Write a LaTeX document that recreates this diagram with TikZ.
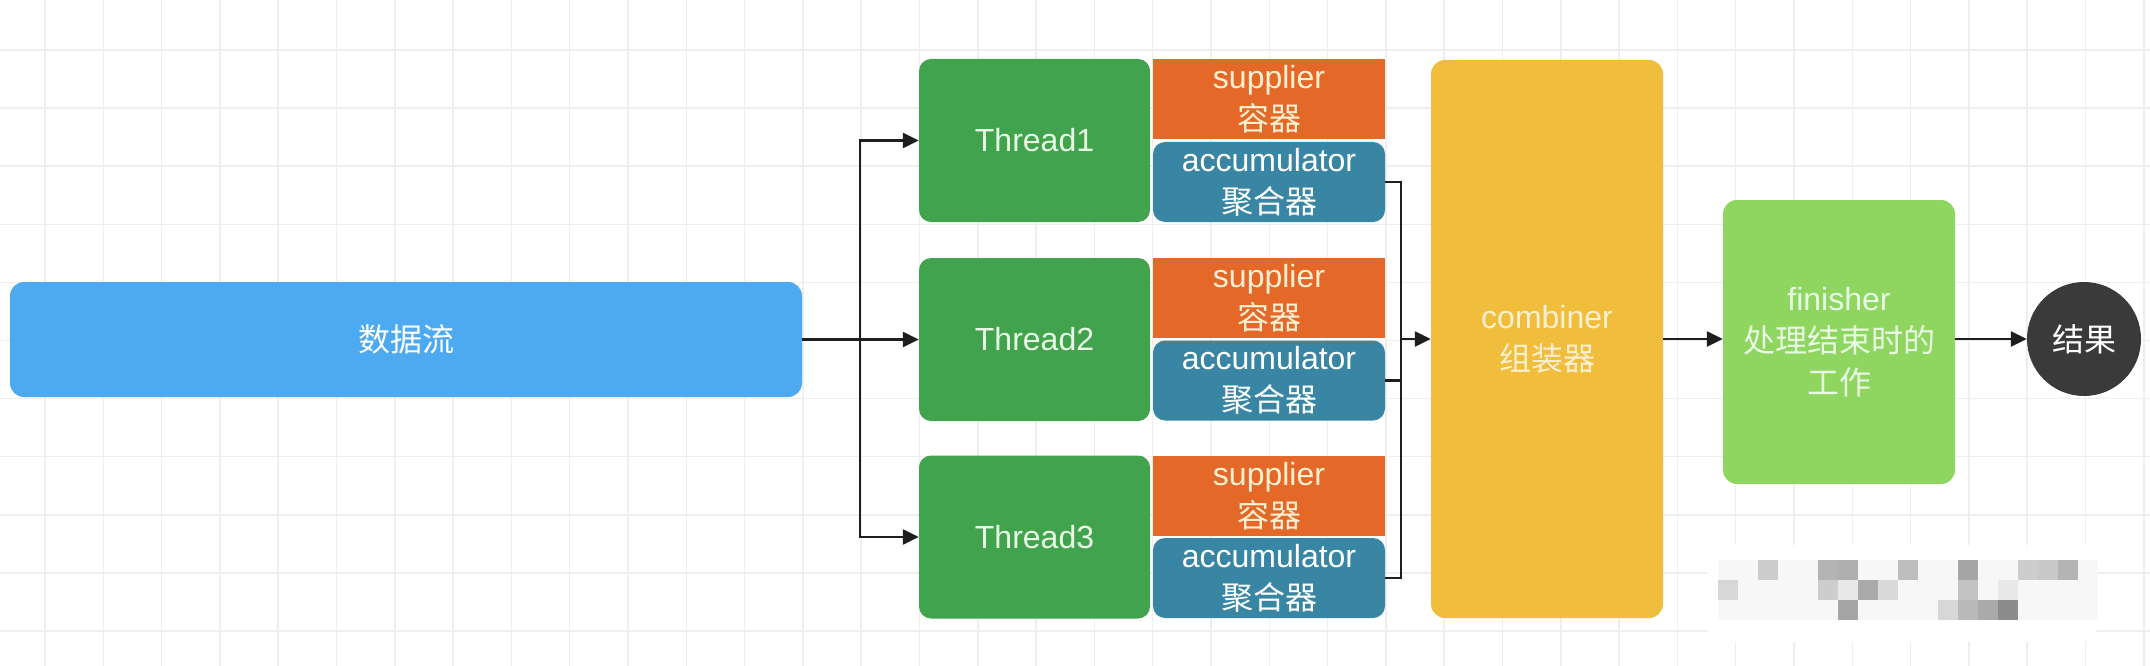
\documentclass[tikz,border=0pt]{standalone}
\usepackage{fontspec}
\setmainfont{Liberation Sans}
\newfontfamily\cjk{Noto Sans CJK SC}
\usetikzlibrary{arrows.meta}
\definecolor{flowblue}{RGB}{77,170,240}
\definecolor{thrgreen}{RGB}{66,163,78}
\definecolor{suporange}{RGB}{228,104,40}
\definecolor{accteal}{RGB}{56,134,164}
\definecolor{combyellow}{RGB}{240,190,60}
\definecolor{fingreen}{RGB}{143,214,96}
\definecolor{resdark}{RGB}{58,58,58}
\definecolor{gridgray}{RGB}{238,238,238}
\definecolor{linedark}{RGB}{30,30,30}
\definecolor{paletext}{RGB}{232,250,228}
\definecolor{creamtext}{RGB}{252,240,210}
\begin{document}
\begin{tikzpicture}[x=1pt,y=-1pt,
  box/.style={inner sep=0pt, align=center, font=\fontsize{32}{42}\selectfont, text=white},
  flowbox/.style={box, fill=flowblue, rounded corners=14pt, minimum width=792, minimum height=115},
  thrbox/.style={box, fill=thrgreen, rounded corners=12pt, minimum width=231, minimum height=163, text=paletext},
  supbox/.style={box, fill=suporange, minimum width=232, minimum height=80, text=creamtext},
  accbox/.style={box, fill=accteal, rounded corners=12pt, minimum width=232, minimum height=80},
  combox/.style={box, fill=combyellow, rounded corners=14pt, minimum width=232, minimum height=558, text=creamtext},
  finbox/.style={box, fill=fingreen, rounded corners=14pt, minimum width=232, minimum height=284, text=paletext},
  resnode/.style={box, circle, fill=resdark, minimum size=114},
  conn/.style={draw=linedark, line width=2.4pt},
  arr/.style={conn, -{Triangle[length=16pt,width=15pt]}}
]
\useasboundingbox (0,0) rectangle (2150,666);
\fill[white] (0,0) rectangle (2150,666);
% grid
\foreach \i in {0,...,36} \draw[gridgray, line width=1.5pt] ({45+58.3*\i},0) -- ({45+58.3*\i},666);
\foreach \j in {0,...,10} \draw[gridgray, line width=1.5pt] (0,{50+58.1*\j}) -- (2150,{50+58.1*\j});

% nodes
\node[flowbox] (dataflow) at (406,339.5) {{\cjk 数据流}};
\node[thrbox] (T1) at (1034.5,140.5) {Thread1};
\node[thrbox] (T2) at (1034.5,339.5) {Thread2};
\node[thrbox] (T3) at (1034.5,537) {Thread3};
\node[supbox] (S1) at (1269,99.5) {supplier\\{\cjk 容器}};
\node[accbox] (A1) at (1269,182) {accumulator\\{\cjk 聚合器}};
\node[supbox] (S2) at (1269,298) {supplier\\{\cjk 容器}};
\node[accbox] (A2) at (1269,380.5) {accumulator\\{\cjk 聚合器}};
\node[supbox] (S3) at (1269,496) {supplier\\{\cjk 容器}};
\node[accbox] (A3) at (1269,578) {accumulator\\{\cjk 聚合器}};
\node[combox] (comb) at (1547,339) {combiner\\{\cjk 组装器}};
\node[finbox] (fin) at (1839,342) {finisher\\{\cjk 处理结束时的}\\{\cjk 工作}};
\node[resnode] (res) at (2084,339) {{\cjk 结果}};

% connectors
\coordinate (split) at (860,339.5);
\coordinate (merge) at (1401,339);
\draw[conn] (dataflow.east) -- (split);
\draw[arr] (split) -- (T2.west);
\draw[arr] (split) |- (T1.west);
\draw[arr] (split) |- (T3.west);
\draw[conn] (A1.east) -| (merge);
\draw[conn] (A2.east) -| (merge);
\draw[conn] (A3.east) -| (merge);
\draw[arr] (merge) -- (comb.west);
\draw[arr] (comb.east) -- (comb.east -| fin.west);
\draw[arr] (comb.east -| fin.east) -- (res.west);

% pixelated watermark
\fill[white, opacity=0.95, rounded corners=16pt] (1707,545) rectangle (2097,642);
\fill[black!3] (1718,560) rectangle (2098,620);
\foreach \c/\r/\g in {2/0/205,5/0/180,6/0/175,9/0/190,12/0/165,15/0/205,16/0/200,17/0/180,
  0/1/215,5/1/205,6/1/232,7/1/170,8/1/218,12/1/195,14/1/232,
  6/2/165,11/2/215,12/2/185,13/2/170,14/2/140}{
  \definecolor{wmgray}{RGB}{\g,\g,\g}
  \fill[wmgray] ({1718+20*\c},{560+20*\r}) rectangle ++(20,20);
}
\end{tikzpicture}
\end{document}
